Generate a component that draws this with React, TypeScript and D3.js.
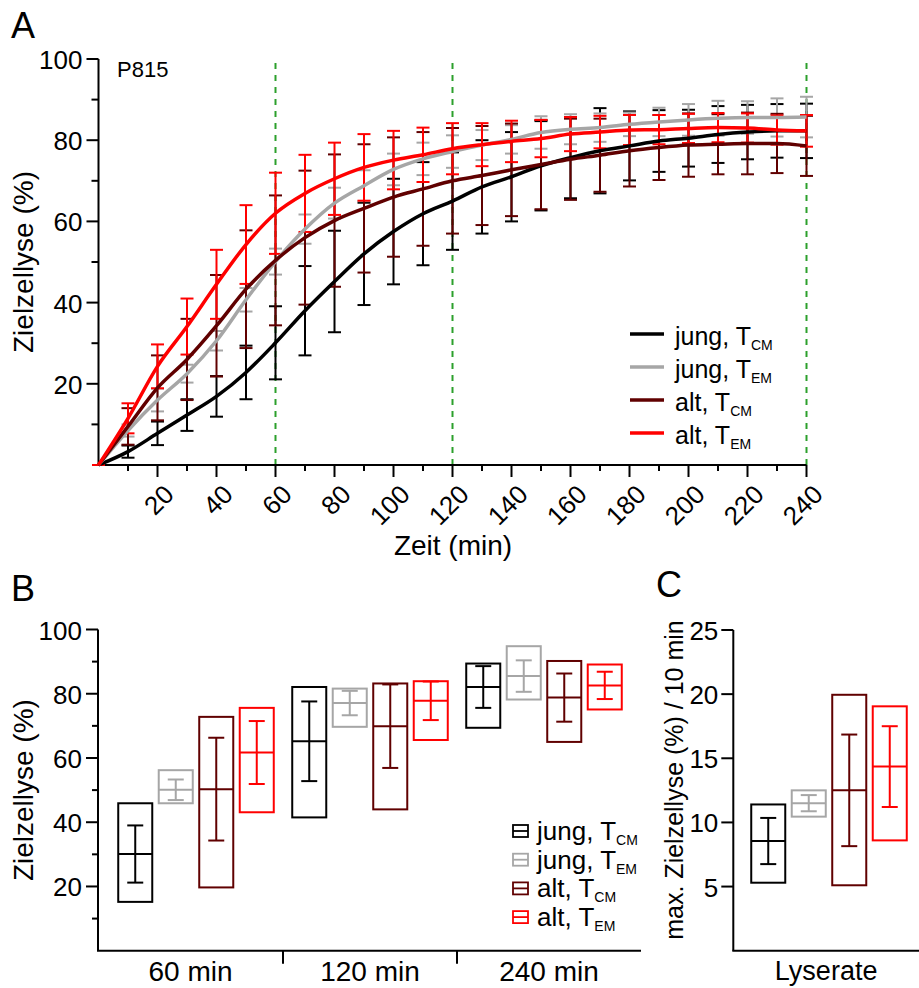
import React from 'react';
import * as d3 from 'd3';

const FONT = '"Liberation Sans", Arial, Helvetica, sans-serif';

// ---------- Panel A data (time course) ----------
const times = [0, 10, 20, 30, 40, 50, 60, 70, 80, 90, 100, 110, 120, 130, 140, 150, 160, 170, 180, 190, 200, 210, 220, 230, 240];

const jungTcmMean = [0, 3.3, 7.8, 12.3, 16.9, 22.8, 30.1, 38, 45.2, 52, 57.5, 61.9, 65, 68.5, 71, 73.7, 75.7, 77.4, 78.6, 79.8, 80.5, 81.4, 82, 82.3, 82.3];
const jungTcmSD = [0, 1.5, 2.9, 3.9, 5, 6.6, 9, 11, 12.5, 12.6, 13, 12.7, 12, 11.5, 11, 11, 10, 10.5, 8.5, 7.6, 7, 7, 6.7, 6.6, 6.7];

const jungTemMean = [0, 8.5, 16, 22.5, 30.6, 40.7, 50.1, 58.1, 64.5, 68.8, 72.8, 75.4, 77.2, 78.8, 80.2, 81.9, 82.7, 83.1, 83.9, 84.5, 85, 85.4, 85.6, 85.6, 85.7];
const jungTemSD = [0, 1.5, 2.8, 2.2, 2.4, 2.9, 3.2, 3.6, 3.8, 3.8, 3.9, 4, 4, 3.7, 3.5, 4, 3.7, 3.5, 2.9, 3.5, 3.9, 4.3, 4, 4.7, 5];

const altTcmMean = [0, 9.5, 19, 26, 34.3, 43.3, 50.4, 56, 60.2, 63.2, 66, 68, 70, 71.3, 72.7, 74, 75.3, 76.3, 77.4, 78.2, 78.8, 79, 79.2, 79.2, 78.6];
const altTcmSD = [0, 4.5, 8, 10, 12.5, 14.5, 16, 16.5, 16.3, 15.8, 14.7, 14, 13, 12.2, 11.4, 11, 10, 9, 8.8, 8, 7.8, 7.4, 7.6, 7.3, 7.4];

const altTemMean = [0, 11.5, 24.3, 34.1, 44.5, 54.3, 62, 66.9, 70.5, 73.3, 75.1, 76.4, 77.9, 78.9, 79.7, 80.4, 81.5, 82, 82.5, 82.6, 82.9, 83.1, 83, 82.5, 82.3];
const altTemSD = [0, 3.7, 5.4, 6.9, 8.5, 9.7, 10, 9.5, 8.9, 8.2, 7.2, 6.7, 6.3, 5.3, 5.1, 4.6, 4.2, 4, 3.7, 3.6, 3.6, 3.6, 3.6, 3.6, 3.9];

const markerTimes = [60, 120, 240];

// ---------- Series ----------
const seriesMain = ['jung', 'jung', 'alt', 'alt'];
const seriesSub = ['CM', 'EM', 'CM', 'EM'];
const seriesColors = ['#000000', '#a6a6a6', '#600000', '#ff0000'];

// ---------- Panel B data (rows: series; columns: groups) ----------
const groupsB = ['60 min', '120 min', '240 min'];
const bMin = [
  [15.2, 41.5, 69.4],
  [45.9, 69.7, 78.2],
  [19.7, 44.0, 65.0],
  [43.1, 65.6, 75.1],
];
const bMax = [
  [45.9, 82.1, 89.4],
  [56.2, 81.6, 94.8],
  [72.8, 83.2, 90.2],
  [75.6, 83.9, 89.1],
];
const bMean = [
  [30.1, 65.2, 82.1],
  [50.1, 77.1, 85.5],
  [50.3, 69.9, 78.8],
  [61.7, 77.8, 82.6],
];
const bSD = [
  [8.9, 12.4, 6.5],
  [3.2, 3.8, 4.9],
  [16.0, 13.0, 7.5],
  [9.8, 6.0, 4.25],
];

// ---------- Panel C data ----------
const groupsC = ['Lyserate'];
const cMin = [5.3, 10.45, 5.1, 8.6];
const cMax = [11.4, 12.5, 19.95, 19.05];
const cMean = [8.55, 11.5, 12.5, 14.35];
const cSD = [1.8, 0.63, 4.35, 3.15];

const yTicksA = [10, 20, 30, 40, 50, 60, 70, 80, 90, 100];
const xTicksA = [10, 20, 30, 40, 50, 60, 70, 80, 90, 100, 110, 120, 130, 140, 150, 160, 170, 180, 190, 200, 210, 220, 230, 240];
const yTicksB = [10, 20, 30, 40, 50, 60, 70, 80, 90, 100];
const yTicksC = [5, 10, 15, 20, 25];

export default function App() {
  const meansA = [jungTcmMean, jungTemMean, altTcmMean, altTemMean];
  const sdsA = [jungTcmSD, jungTemSD, altTcmSD, altTemSD];

  // Panel A scales
  const xA = d3.scaleLinear().domain([0, 240]).range([98.5, 806.5]);
  const yA = d3.scaleLinear().domain([0, 100]).range([465, 59]);
  const lineGen = d3
    .line<number>()
    .x((_, i) => xA(times[i]))
    .y((d) => yA(d))
    .curve(d3.curveMonotoneX);

  // Panel B scales
  const yB = d3.scaleLinear().domain([0, 100]).range([950.7, 629.5]);
  const xB = d3.scaleBand<string>().domain(groupsB).range([109, 631]).paddingInner(0).paddingOuter(0);
  const inner = d3
    .scaleBand<number>()
    .domain([0, 1, 2, 3])
    .range([0, 174])
    .paddingInner(0.16)
    .paddingOuter(0.228);
  const boxW = inner.bandwidth();
  const bAxisStart = 98;
  const bAxisEnd = 641;
  const bBounds = [bAxisStart, ...groupsB.slice(1).map((g) => xB(g) as number), bAxisEnd];

  // Panel C scales
  const yC = d3.scaleLinear().domain([0, 25]).range([950.7, 630]);
  const xC = d3.scaleBand<string>().domain(groupsC).range([742, 916]);
  const cAxisStart = 733.3;
  const cAxisEnd = 919;

  const capA = 6.5;
  const capB = 8;

  const renderBox = (
    key: string,
    cx: number,
    y: (v: number) => number,
    mn: number,
    mx: number,
    mean: number,
    sd: number,
    color: string
  ) => (
    <g key={key} stroke={color} strokeWidth={2} fill="none">
      <rect x={cx - boxW / 2} y={y(mx)} width={boxW} height={y(mn) - y(mx)} />
      <line x1={cx - boxW / 2} x2={cx + boxW / 2} y1={y(mean)} y2={y(mean)} />
      <line x1={cx} x2={cx} y1={y(mean + sd)} y2={y(mean - sd)} />
      <line x1={cx - capB} x2={cx + capB} y1={y(mean + sd)} y2={y(mean + sd)} />
      <line x1={cx - capB} x2={cx + capB} y1={y(mean - sd)} y2={y(mean - sd)} />
    </g>
  );

  return (
    <svg
      width={919}
      height={988}
      style={{ position: 'absolute', left: 0, top: 0, background: '#fff' }}
      fontFamily={FONT}
    >
      <rect x={0} y={0} width={919} height={988} fill="#fff" />

      {/* ================= Panel A ================= */}
      <text x={11} y={38} fontSize={36}>A</text>
      <text x={117} y={77} fontSize={22}>P815</text>

      {/* green dashed reference lines */}
      {markerTimes.map((t) => (
        <line
          key={'m' + t}
          x1={xA(t)}
          x2={xA(t)}
          y1={yA(0)}
          y2={yA(100)}
          stroke="#2ca02c"
          strokeWidth={2}
          strokeDasharray="6,6"
        />
      ))}

      {/* axes */}
      <line x1={xA(0)} x2={xA(0)} y1={yA(0)} y2={yA(100)} stroke="#000" strokeWidth={2} />
      <line x1={xA(0) - 1} x2={xA(240)} y1={yA(0)} y2={yA(0)} stroke="#000" strokeWidth={2} />
      {yTicksA.map((v) => {
        const major = v % 20 === 0;
        return (
          <g key={'ya' + v}>
            <line x1={xA(0) - (major ? 12 : 7)} x2={xA(0)} y1={yA(v)} y2={yA(v)} stroke="#000" strokeWidth={2} />
            {major && (
              <text x={xA(0) - 16} y={yA(v) + 10} fontSize={26} textAnchor="end">
                {v}
              </text>
            )}
          </g>
        );
      })}
      {xTicksA.map((t) => {
        const major = t % 20 === 0;
        return (
          <g key={'xa' + t}>
            <line x1={xA(t)} x2={xA(t)} y1={yA(0)} y2={yA(0) + (major ? 12 : 6)} stroke="#000" strokeWidth={2} />
            {major && (
              <text
                transform={`translate(${xA(t) + 18},${496}) rotate(-45)`}
                fontSize={26}
                textAnchor="end"
              >
                {t}
              </text>
            )}
          </g>
        );
      })}
      <text x={453} y={555} fontSize={28} textAnchor="middle">Zeit (min)</text>
      <text
        transform={`translate(33,${(yA(0) + yA(100)) / 2}) rotate(-90)`}
        fontSize={28}
        textAnchor="middle"
      >
        Zielzellyse (%)
      </text>

      {/* error bars */}
      {meansA.map((means, s) => (
        <g key={'eb' + s} stroke={seriesColors[s]} strokeWidth={2}>
          {means.map((m, i) => {
            const sd = sdsA[s][i];
            const x = xA(times[i]);
            return (
              <g key={i}>
                {sd > 0 && <line x1={x} x2={x} y1={yA(m + sd)} y2={yA(m - sd)} />}
                <line x1={x - capA} x2={x + capA} y1={yA(m + sd)} y2={yA(m + sd)} />
                <line x1={x - capA} x2={x + capA} y1={yA(m - sd)} y2={yA(m - sd)} />
              </g>
            );
          })}
        </g>
      ))}
      {/* curves */}
      {meansA.map((means, s) => (
        <path key={'ln' + s} d={lineGen(means) || ''} fill="none" stroke={seriesColors[s]} strokeWidth={3.5} />
      ))}

      {/* legend A */}
      {seriesMain.map((name, i) => {
        const y = 334 + 33 * i;
        return (
          <g key={'lgA' + i}>
            <line x1={630} x2={664} y1={y} y2={y} stroke={seriesColors[i]} strokeWidth={3.5} />
            <text x={675} y={y + 11} fontSize={25}>
              {name}, T
              <tspan fontSize={14} dy={5}>{seriesSub[i]}</tspan>
            </text>
          </g>
        );
      })}

      {/* ================= Panel B ================= */}
      <text x={11} y={601} fontSize={36}>B</text>
      <line x1={bAxisStart} x2={bAxisStart} y1={yB(0)} y2={yB(100)} stroke="#000" strokeWidth={2} />
      <line x1={bAxisStart - 1} x2={bAxisEnd} y1={yB(0)} y2={yB(0)} stroke="#000" strokeWidth={2} />
      {yTicksB.map((v) => {
        const major = v % 20 === 0;
        return (
          <g key={'yb' + v}>
            <line x1={bAxisStart - (major ? 12 : 6)} x2={bAxisStart} y1={yB(v)} y2={yB(v)} stroke="#000" strokeWidth={2} />
            {major && (
              <text x={bAxisStart - 16} y={yB(v) + 10} fontSize={26} textAnchor="end">
                {v}
              </text>
            )}
          </g>
        );
      })}
      {bBounds.slice(1, -1).map((b, i) => (
        <line key={'sep' + i} x1={b} x2={b} y1={yB(0)} y2={yB(0) + 13} stroke="#000" strokeWidth={2} />
      ))}
      {groupsB.map((g, i) => (
        <text key={'gl' + g} x={(bBounds[i] + bBounds[i + 1]) / 2} y={981} fontSize={28} textAnchor="middle">
          {g}
        </text>
      ))}
      <text
        transform={`translate(33,${(yB(0) + yB(100)) / 2}) rotate(-90)`}
        fontSize={28}
        textAnchor="middle"
      >
        Zielzellyse (%)
      </text>
      {groupsB.map((g, gi) =>
        seriesColors.map((c, s) => {
          const cx = (xB(g) as number) + (inner(s) as number) + boxW / 2;
          return renderBox(`b${gi}-${s}`, cx, yB, bMin[s][gi], bMax[s][gi], bMean[s][gi], bSD[s][gi], c);
        })
      )}
      {/* legend B */}
      {seriesMain.map((name, i) => {
        const cy = 831 + 28.7 * i;
        return (
          <g key={'lgB' + i}>
            <g stroke={seriesColors[i]} strokeWidth={1.8} fill="none">
              <rect x={513} y={cy - 6} width={15} height={12} />
              <line x1={513} x2={528} y1={cy} y2={cy} />
            </g>
            <text x={537} y={cy + 9} fontSize={26}>
              {name}, T
              <tspan fontSize={14} dy={5}>{seriesSub[i]}</tspan>
            </text>
          </g>
        );
      })}

      {/* ================= Panel C ================= */}
      <text x={656} y={597} fontSize={36}>C</text>
      <line x1={cAxisStart} x2={cAxisStart} y1={yC(0)} y2={yC(25)} stroke="#000" strokeWidth={2} />
      <line x1={cAxisStart - 1} x2={cAxisEnd} y1={yC(0)} y2={yC(0)} stroke="#000" strokeWidth={2} />
      {yTicksC.map((v) => (
        <g key={'yc' + v}>
          <line x1={cAxisStart - 12} x2={cAxisStart} y1={yC(v)} y2={yC(v)} stroke="#000" strokeWidth={2} />
          <text x={cAxisStart - 15} y={yC(v) + 10} fontSize={26} textAnchor="end">
            {v}
          </text>
        </g>
      ))}
      <text x={(cAxisStart + cAxisEnd) / 2} y={980} fontSize={27} textAnchor="middle">
        {groupsC[0]}
      </text>
      <text
        transform={`translate(683,780) rotate(-90)`}
        fontSize={25}
        textAnchor="middle"
      >
        max. Zielzellyse (%) / 10 min
      </text>
      {seriesColors.map((c, s) => {
        const cx = (xC(groupsC[0]) as number) + (inner(s) as number) + boxW / 2;
        return renderBox(`c-${s}`, cx, yC, cMin[s], cMax[s], cMean[s], cSD[s], c);
      })}
    </svg>
  );
}
